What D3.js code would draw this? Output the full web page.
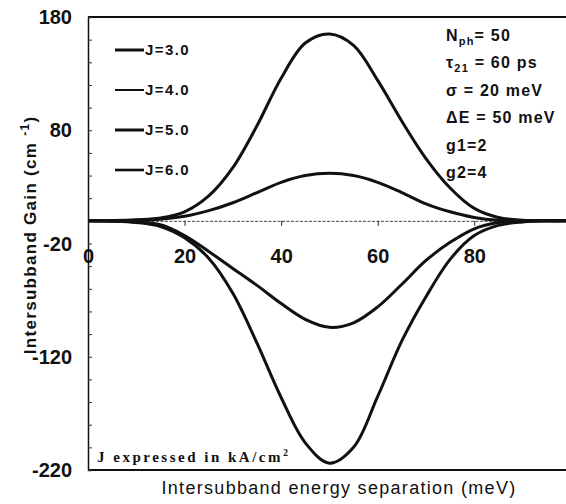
<!DOCTYPE html>
<html>
<head>
<meta charset="utf-8">
<script src="https://cdn.jsdelivr.net/npm/d3@7"></script>
<style>
  body { margin: 0; background: #fff; }
  text { font-family: "Liberation Sans", Arial, sans-serif; fill: #111; }
</style>
</head>
<body>
<section></section>
<script>
var energy = [0, 5, 10, 15, 20, 25, 30, 35, 40, 45, 50, 55, 60, 65, 70, 75, 80, 85, 90, 95, 99];

// Gain (cm^-1) for each current density
var gainJ3 = [0, -0.3, -1.5, -5, -15, -33, -64, -108, -156, -196, -214, -200, -155, -106, -67, -34, -13, -4, -1, 0, 0];
var gainJ4 = [0, -0.3, -1, -3.5, -13, -27, -42, -57, -73, -87, -94, -90, -76, -56, -35, -19, -7, -1.5, 0, 0, 0];
var gainJ5 = [0, 0.2, 0.6, 1.5, 4, 9, 16, 25, 34, 40, 42, 40, 34, 25, 15, 8, 3, 0.5, 0, 0, 0];
var gainJ6 = [0, 0.3, 1, 2.5, 8, 22, 47, 84, 126, 157, 165, 155, 124, 88, 55, 29, 11, 3, 0.5, 0, 0];

var seriesNames = ["J=3.0", "J=4.0", "J=5.0", "J=6.0"];
var seriesValues = [gainJ3, gainJ4, gainJ5, gainJ6];
var legendWidth = [3, 2, 3, 2.6];

var xTicks = [0, 20, 40, 60, 80];
var yLabelTicks = [180, 80, -20, -120, -220];
var yMinorTicks = d3.range(-220, 181, 20);

var params = [
  ["N", "ph", "= 50"],
  ["\u03C4", "21", " = 60  ps"],
  ["\u03C3 = 20  meV", "", ""],
  ["\u0394E = 50  meV", "", ""],
  ["g1=2", "", ""],
  ["g2=4", "", ""]
];

// Setup size.
var margin = { top: 17, right: 0, bottom: 34, left: 88 };
var width = 566 - margin.left - margin.right;
var height = 504 - margin.top - margin.bottom;

var xScale = d3.scaleLinear().domain([0, 99]).range([0, width]);
var yScale = d3.scaleLinear().domain([-220, 180]).range([height, 0]);

var svg = d3.select("section")
  .append("svg")
  .attr("width", 566)
  .attr("height", 504)
  .append("g")
  .attr("transform", "translate(" + margin.left + "," + margin.top + ")");

// Frame: top and bottom borders
svg.append("line")
  .attr("x1", 0).attr("x2", width)
  .attr("y1", 0).attr("y2", 0)
  .attr("stroke", "#111").attr("stroke-width", 2);
svg.append("line")
  .attr("x1", 0).attr("x2", width)
  .attr("y1", height).attr("y2", height)
  .attr("stroke", "#111").attr("stroke-width", 2);

// Y axis with inward minor ticks
var yAxis = d3.axisLeft(yScale).tickValues(yMinorTicks).tickSize(-4).tickFormat("");
var gy = svg.append("g").attr("class", "y axis").call(yAxis);
gy.select(".domain").attr("stroke", "#111").attr("stroke-width", 1.5);
gy.selectAll(".tick line").attr("stroke", "#333");

gy.selectAll(".ylab")
  .data(yLabelTicks)
  .enter()
  .append("text")
  .attr("class", "ylab")
  .attr("x", -16)
  .attr("y", function (d) { return yScale(d); })
  .attr("dy", "0.36em")
  .attr("text-anchor", "end")
  .style("font-size", "20px")
  .style("font-weight", "bold")
  .text(function (d) { return d; });

// X axis drawn along the zero line
var xAxis = d3.axisBottom(xScale).tickValues(xTicks).tickSize(5).tickPadding(23);
var gx = svg.append("g")
  .attr("class", "x axis")
  .attr("transform", "translate(0," + yScale(0) + ")")
  .call(xAxis);
gx.select(".domain")
  .attr("stroke", "#444")
  .attr("stroke-width", 1)
  .attr("stroke-dasharray", "3,1.5");
gx.selectAll(".tick line").attr("stroke", "#222");
gx.selectAll(".tick text")
  .style("font-family", "Liberation Sans, Arial, sans-serif")
  .style("font-size", "20px")
  .style("font-weight", "bold")
  .attr("fill", "#111");

// Curves
var line = d3.line()
  .x(function (d) { return xScale(d[0]); })
  .y(function (d) { return yScale(d[1]); })
  .curve(d3.curveCatmullRom.alpha(0.5));

seriesValues.forEach(function (vals, i) {
  svg.append("path")
    .datum(energy.map(function (e, k) { return [e, vals[k]]; }))
    .attr("fill", "none")
    .attr("stroke", "#111")
    .attr("stroke-width", 3)
    .attr("stroke-linejoin", "round")
    .attr("d", line);
});

// Legend
seriesNames.forEach(function (name, i) {
  var ly = 33 + i * 40;
  svg.append("line")
    .attr("x1", 27).attr("x2", 56)
    .attr("y1", ly).attr("y2", ly)
    .attr("stroke", "#111")
    .attr("stroke-width", legendWidth[i]);
  svg.append("text")
    .attr("x", 57)
    .attr("y", ly)
    .attr("dy", "0.36em")
    .style("font-size", "15px")
    .style("font-weight", "bold")
    .style("letter-spacing", "1.4px")
    .text(name);
});

// Parameters box (top right)
params.forEach(function (p, i) {
  var t = svg.append("text")
    .attr("x", 358)
    .attr("y", 24 + i * 27.4)
    .style("font-size", "16px")
    .style("font-weight", "bold")
    .style("letter-spacing", "1.2px");
  t.append("tspan").text(p[0]);
  if (p[1]) {
    t.append("tspan")
      .attr("dy", 4)
      .style("font-size", "11px")
      .text(p[1]);
    t.append("tspan").attr("dy", -4).text(p[2]);
  }
});

// Units note (bottom left)
var note = svg.append("text")
  .attr("x", 9)
  .attr("y", height - 8)
  .style("font-family", "Liberation Serif, Times New Roman, serif")
  .style("font-size", "15px")
  .style("font-weight", "bold")
  .style("letter-spacing", "2.5px");
note.append("tspan").text("J expressed in kA/cm");
note.append("tspan").attr("dy", -6).style("font-size", "10px").text("2");

// Axis titles
svg.append("text")
  .attr("x", 339 - margin.left)
  .attr("y", height + 24)
  .attr("text-anchor", "middle")
  .style("font-size", "18px")
  .style("letter-spacing", "1.3px")
  .text("Intersubband energy separation (meV)");

var yt = svg.append("text")
  .attr("transform", "translate(" + (36 - margin.left) + "," + (yScale(0) + 14) + ") rotate(-90)")
  .attr("text-anchor", "middle")
  .style("font-size", "17px")
  .style("font-weight", "bold")
  .style("letter-spacing", "1.3px");
yt.append("tspan").text("Intersubband Gain (cm  ");
yt.append("tspan").attr("dy", -7).style("font-size", "12px").text("-1");
yt.append("tspan").attr("dy", 7).text(")");
</script>
</body>
</html>
